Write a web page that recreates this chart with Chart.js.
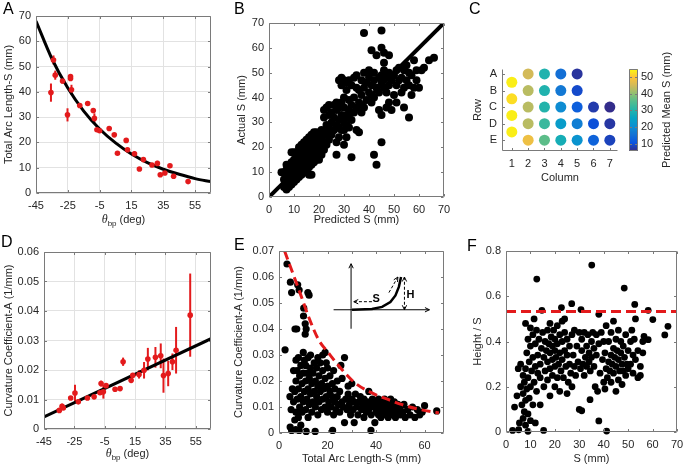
<!DOCTYPE html>
<html>
<head>
<meta charset="utf-8">
<script src="https://cdn.jsdelivr.net/npm/chart.js@4.4.1/dist/chart.umd.min.js"></script>
<style>
  body { margin: 0; background: #fff; }
  #fig { position: relative; width: 685px; height: 466px; overflow: hidden; font-family: "Liberation Sans", Arial, sans-serif; }
  #fig canvas { position: absolute; }
  .tag { position: absolute; font-size: 16px; line-height: 16px; color: #000; }
</style>
</head>
<body>
<div id="fig">
  <canvas id="chartA" width="225" height="230" style="left:0px;top:0px"></canvas>
  <canvas id="chartB" width="230" height="230" style="left:225px;top:0px"></canvas>
  <canvas id="chartC" width="170" height="230" style="left:455px;top:0px"></canvas>
  <canvas id="chartCbar" width="65" height="230" style="left:620px;top:0px"></canvas>
  <canvas id="chartD" width="225" height="236" style="left:0px;top:230px"></canvas>
  <canvas id="chartE" width="230" height="236" style="left:225px;top:230px"></canvas>
  <canvas id="chartF" width="230" height="236" style="left:455px;top:230px"></canvas>
  <div class="tag" style="left:3px;top:1px">A</div>
  <div class="tag" style="left:234px;top:1px">B</div>
  <div class="tag" style="left:469px;top:1px">C</div>
  <div class="tag" style="left:1px;top:234px">D</div>
  <div class="tag" style="left:234px;top:237px">E</div>
  <div class="tag" style="left:467px;top:238px">F</div>
</div>
<script>
// ---- A: total arc length vs theta_bp ----
const thetaA = [-35.6, -34, -32.9, -28.3, -25.2, -23.3, -23.3, -22.7, -17.5, -12.5, -9, -8.3, -6.7, -5, 1, 4.2, 6.2, 11.7, 12.5, 16.9, 20, 22.5, 27.9, 31.3, 33.1, 36, 39.2, 41.5, 50.6]
const arcA = [39.7, 52.6, 46.6, 44.3, 30.9, 46.1, 45.3, 40.8, 34.6, 35.4, 32.6, 29.5, 25, 24.6, 25.5, 23, 15.7, 20.8, 17.1, 15.5, 9.5, 13.2, 11.1, 11.7, 7.2, 7.9, 10.8, 6.6, 4.5]
const arcErrA = [3.6, 1.8, 1.8, 1, 2.6, 0.6, 0.6, 2, 0.5, 0.5, 0.5, 2, 0.8, 0.6, 0.5, 0.5, 0.5, 0.5, 0.8, 1, 0.5, 0.5, 0.5, 1, 0.5, 0.5, 0.5, 0.5, 0.6]
const fitThetaA = [-45, -35, -25, -15, -5, 5, 15, 25, 35, 45, 55, 65]
const fitArcA = [68, 53.1, 41.5, 32.4, 25.3, 19.8, 15.4, 12, 9.4, 7.4, 5.7, 4.5]
const thetaTicks = [-45, -25, -5, 15, 35, 55]
const arcTicks = [0, 10, 20, 30, 40, 50, 60, 70]

// ---- B: actual vs predicted S (mm), [predicted, actual] ----
const predActualB = [
  [5,10],[6,4],[6,7],[6,10],[7,3],[7,5],[7,8],[7,11],[7,13],[8,4],[8,6],[8,9],[8,11],[8,13],
  [9,5],[9,7],[9,9],[9,12],[9,14],[9,18],[10,6],[10,8],[10,10],[10,12],[10,15],[10,18],
  [11,7],[11,9],[11,11],[11,13],[11,16],[11,18],[12,8],[12,10],[12,12],[12,14],[12,17],[12,20],
  [13,9],[13,11],[13,13],[13,15],[13,18],[13,21],[14,10],[14,12],[14,14],[14,16],[14,19],[14,22],
  [15,11],[15,13],[15,15],[15,17],[15,20],[15,23],[16,9],[16,12],[16,14],[16,16],[16,18],[16,21],[16,24],
  [17,9],[17,13],[17,15],[17,17],[17,19],[17,22],[17,25],[18,14],[18,16],[18,18],[18,20],[18,23],[18,26],
  [19,15],[19,17],[19,19],[19,21],[19,24],[19,26],[20,15],[20,18],[20,20],[20,22],[20,25],
  [21,17],[21,19],[21,21],[21,24],[21,27],[22,19],[22,22],[22,25],[22,32],[22,35],
  [23,21],[23,26],[23,29],[23,36],[24,23],[24,28],[24,33],[24,37],
  [25,25],[25,30],[25,34],[26,27],[26,32],[26,37],
  [27,17],[27,22],[27,29],[27,35],[27,38],[28,24],[28,31],[28,36],[28,47],
  [29,27],[29,33],[29,38],[29,45],[29,48],[30,21],[30,27],[30,31],[30,36],[30,40],[30,47],
  [31,24],[31,29],[31,33],[31,43],[31,46],[32,28],[32,35],[32,39],[32,47],
  [33,16],[33,31],[33,37],[33,45],[34,34],[34,40],[34,48],
  [35,27],[35,36],[35,44],[35,49],[36,26],[36,38],[36,43],
  [37,34],[37,41],[37,47],[38,36],[38,44],[38,50],[38,66],
  [39,39],[39,46],[40,42],[40,48],[40,51],
  [41,38],[41,45],[41,59],[42,17],[42,40],[42,47],[42,50],
  [43,13],[43,44],[43,57],[44,35],[44,42],[44,48],
  [45,22],[45,33],[45,46],[45,49],[45,60],[45,67],[46,44],[46,51],[46,54],[46,58],
  [47,36],[47,42],[47,48],[48,38],[48,45],[48,50],[48,57],
  [49,35],[49,47],[50,41],[50,49],[51,38],[51,45],[51,51],
  [52,47],[52,52],[53,42],[53,48],[54,36],[54,44],[54,51],
  [55,47],[55,53],[56,32],[56,45],[56,50],[57,41],[57,49],
  [58,44],[58,55],[59,47],[59,51],[60,44],[61,51],[62,52],[64,55],[66,56]
]
const identityB = [0, 70]
const sTicks = [0, 10, 20, 30, 40, 50, 60, 70]

// ---- C: predicted mean S per well ----
const rowLabels = ['A', 'B', 'C', 'D', 'E']
const colTicks = [1, 2, 3, 4, 5, 6, 7]
const wellCol = [1, 1, 1, 1, 2, 2, 2, 2, 2, 3, 3, 3, 3, 3, 4, 4, 4, 4, 4, 5, 5, 5, 5, 5, 6, 6, 6, 7, 7, 7]
const wellRow = [1.5, 2.5, 3.5, 4.5, 1, 2, 3, 4, 5, 1, 2, 3, 4, 5, 1, 2, 3, 4, 5, 1, 2, 3, 4, 5, 3, 4, 5, 3, 4, 5]
const wellMeanS = [53.5, 52, 53.5, 53.5, 45, 43, 43, 43, 48, 29.5, 29.5, 30, 32.5, 36, 15, 16.5, 20, 23.5, 28, 7, 9.5, 12.5, 17.5, 21.5, 7.8, 10.2, 13.2, 6, 7.3, 8.7]
const cbarTicks = [10, 20, 30, 40, 50]
const cMin = 5.8
const cMax = 54.6

// ---- D: curvature coefficient vs theta_bp ----
const thetaD = [-34.9, -33.1, -32.3, -27.4, -24.6, -22.4, -16.4, -12, -8.1, -7.4, -5.9, -4.1, 1.8, 5.1, 7.1, 12.4, 13.5, 17.6, 20.9, 23.4, 28.4, 31.9, 33.7, 36.8, 39.6, 42, 51.3]
const curvD = [0.0063, 0.0077, 0.0071, 0.0105, 0.0122, 0.0092, 0.0105, 0.0109, 0.0123, 0.0154, 0.0126, 0.0147, 0.0135, 0.0137, 0.0228, 0.0165, 0.0182, 0.0185, 0.0199, 0.0237, 0.0243, 0.0248, 0.0181, 0.0188, 0.0228, 0.0267, 0.0386]
const curvErrD = [0.0005, 0.0009, 0.0005, 0.0004, 0.0028, 0.0006, 0.0005, 0.0004, 0.0005, 0.001, 0.0023, 0.0005, 0.0004, 0.0008, 0.0014, 0.0007, 0.0008, 0.0014, 0.0028, 0.0038, 0.0035, 0.0042, 0.0058, 0.0043, 0.0028, 0.0079, 0.0141]
const fitThetaD = [-45, 65]
const fitCurvD = [0.0041, 0.0306]
const curvTicksD = [0, 0.01, 0.02, 0.03, 0.04, 0.05, 0.06]

// ---- E: curvature coefficient vs total arc length, [S, A] ----
const arcCurvE = [
  [3.3,0.065],[4.7,0.058],[5.2,0.054],[7.7,0.057],[8.3,0.055],[11.9,0.054],[12.4,0.053],[10.2,0.048],
  [10.1,0.045],[10.8,0.042],[11.2,0.04],[10.8,0.038],[6.6,0.04],[7.3,0.04],[2.5,0.032],
  [4.5,0.014],[4.6,0.0023],[5.2,0.001],[5,0.009],[5.5,0.017],[6,0.024],[6,0.012],[6.5,0.005],[6.5,0.016],
  [6.9,0.0013],[7,0.008],[7,0.02],[7,0.028],[7.5,0.013],[7.5,0.024],[8.3,0.001],[8,0.006],[8,0.017],[8,0.029],
  [8.5,0.01],[8.5,0.022],[9,0.003],[9,0.014],[9,0.026],[9.5,0.008],[9.5,0.019],[10,0.012],[10,0.023],[10,0.031],
  [10.5,0.016],[10.5,0.028],[11,0.009],[11,0.02],[11,0.026],[11.2,0.0006],[11.5,0.013],[11.5,0.023],[12,0.006],[12,0.017],
  [12,0.029],[12.5,0.011],[12.5,0.021],[13,0.015],[13,0.025],[13,0.03],[13.5,0.008],[13.5,0.019],[14,0.012],
  [14,0.023],[14.5,0.016],[14.5,0.027],[14.9,0.0006],[15,0.01],[15,0.02],
  [15.5,0.014],[15.5,0.025],[16,0.007],[16,0.018],[16,0.029],[16.5,0.012],[16.5,0.022],[17,0.016],[17,0.027],
  [17.5,0.009],[17.5,0.019],[18,0.013],[18,0.024],[18,0.03],[18.5,0.017],[19,0.01],[19,0.021],[19,0.031],
  [19.5,0.014],[19.5,0.027],[20,0.008],[20,0.018],[20,0.025],[20.5,0.012],[21,0.016],[21,0.022],[22.1,0.001],
  [21.5,0.01],[22,0.014],[22,0.019],[22.5,0.007],[22.5,0.024],[23,0.012],[23,0.017],[23.5,0.009],[24,0.014],
  [24,0.02],[24.5,0.011],[25,0.008],[25,0.016],[25.5,0.026],[26,0.012],[26,0.021],[26.5,0.01],[27,0.029],
  [27,0.004],[27.5,0.013],[28,0.009],[28.5,0.015],[28.5,0.018],[29,0.011],[29.5,0.007],[30,0.013],[30,0.019],
  [30.5,0.009],[31,0.012],[31,0.004],[31.5,0.015],[32,0.01],[32.5,0.007],[33,0.012],[33.5,0.014],[34,0.009],
  [34.5,0.011],[35,0.006],[35,0.013],[35.5,0.01],[36,0.008],[36.5,0.012],[37,0.016],[37,0.009],[37.5,0.011],
  [37.9,0.001],[38,0.007],[38.5,0.013],[39,0.01],[39.5,0.004],[40,0.008],[40,0.012],
  [40.5,0.01],[41,0.007],[41,0.013],[41.5,0.009],[42,0.011],[42,0.006],[42.5,0.012],[43,0.008],[43,0.01],
  [43.5,0.013],[44,0.007],[44,0.011],[44.5,0.009],[45,0.012],[45,0.006],[45.5,0.01],[46,0.008],[46,0.013],
  [46.5,0.011],[47,0.007],[47,0.009],[47.5,0.012],[48,0.01],[48,0.006],[48.5,0.008],[49,0.011],[49.5,0.009],
  [50,0.007],[50,0.01],[51,0.008],[51.5,0.011],[52,0.006],[53,0.009],[54,0.007],[55,0.01],[56,0.006],
  [57,0.009],[58,0.007],[59,0.008],[60,0.0105],[65,0.0085]
]
const boundS = [2.3, 8.7, 12.1, 16.3, 20.4, 25.9, 31.4, 38.3, 45.2, 50.8, 56.3, 65.9]
const boundA = [0.07, 0.0538, 0.0449, 0.0359, 0.0308, 0.0244, 0.0192, 0.0154, 0.0128, 0.0109, 0.0094, 0.0077]
const arcTicksE = [0, 10, 20, 30, 40, 50, 60]
const curvTicksE = [0, 0.01, 0.02, 0.03, 0.04, 0.05, 0.06, 0.07]

// ---- F: height / S vs S, [S, H/S] ----
const heightRatioF = [
  [12.6,0.676],[35.1,0.738],[48.4,0.636],[52.7,0.564],[26.9,0.567],[30.7,0.541],[22.7,0.55],[14.7,0.538],
  [58.2,0.538],[60.1,0.497],[65,0.429],[66.3,0.467],[56.5,0.423],[58.2,0.408],[2.7,0.007],[5.2,0.01],
  [9,0.003],[15.4,0.007],[38,0.049],[41.2,0.004],[31,0.094],[34.4,0.143],
  [3.5,0.11],[4.5,0.16],[5,0.28],[5.5,0.04],[6,0.2],[6,0.3],[6.5,0.12],[7,0.06],[7,0.17],[7,0.25],
  [7.5,0.09],[7.5,0.22],[8,0.03],[8,0.14],[8,0.28],[8,0.48],[8.5,0.19],[8.5,0.35],[9,0.08],[9,0.24],
  [9,0.41],[9.5,0.15],[9.5,0.31],[10,0.05],[10,0.2],[10,0.38],[10,0.46],[10.5,0.27],[11,0.12],[11,0.33],
  [11,0.43],[11.5,0.22],[11.5,0.5],[12,0.04],[12,0.29],[12,0.39],[12.5,0.18],[12.5,0.45],[13,0.26],[13,0.34],
  [13.5,0.41],[14,0.12],[14,0.24],[14,0.3],[14.5,0.37],[15,0.44],
  [15.5,0.2],[15.5,0.33],[16,0.27],[16,0.4],[16.5,0.36],[17,0.23],[17,0.31],[17,0.45],[17.5,0.39],[18,0.16],
  [18,0.28],[18,0.35],[18,0.48],[18.5,0.42],[19,0.25],[19,0.32],[19,0.38],[19.5,0.45],[20,0.2],[20,0.29],
  [20,0.36],[20,0.41],[20.5,0.33],[21,0.24],[21,0.39],[21,0.47],[21.5,0.3],[22,0.18],[22,0.35],[22,0.43],
  [22.5,0.27],[23,0.32],[23,0.4],[23,0.49],[23.5,0.24],[24,0.36],[24,0.44],[24,0.5],[24.5,0.29],[25,0.17],
  [25,0.34],[25,0.41],[25.5,0.22],[26,0.3],[26,0.38],[26.5,0.26],[27,0.2],[27,0.43],[27.5,0.34],[28,0.29],
  [28,0.45],[28.5,0.25],[29,0.38],[29.5,0.31],[30,0.1],[30,0.44],
  [30.5,0.28],[31,0.36],[31,0.41],[31.5,0.3],[32,0.44],[32,0.25],[32.5,0.33],[33,0.38],[33,0.29],[33.5,0.43],
  [34,0.31],[34,0.35],[34.5,0.27],[35,0.4],[35,0.33],[35.5,0.44],[36,0.29],[36,0.37],[36.5,0.2],[37,0.43],
  [37,0.34],[37.5,0.18],[38,0.39],[38,0.52],[38.5,0.26],[39,0.44],[39.5,0.32],[40,0.22],[40,0.4],
  [40.5,0.19],[40.5,0.35],[41,0.28],[41,0.47],[41.5,0.24],[42,0.31],[42,0.4],[42.5,0.27],[43,0.22],[43,0.34],
  [43,0.44],[43.5,0.3],[44,0.26],[44,0.37],[44,0.49],[44.5,0.33],[45,0.18],[45,0.29],[45,0.41],[45.5,0.36],
  [46,0.23],[46,0.32],[46,0.45],[46.5,0.27],[47,0.35],[47,0.4],[47.5,0.21],[47.5,0.3],[48,0.38],[48,0.27],
  [48.5,0.33],[49,0.25],[49,0.43],[49.5,0.3],[50,0.36],[50,0.28],
  [51,0.4],[51,0.3],[51.5,0.45],[52,0.34],[52,0.26],[52.5,0.41],[53,0.5],[53,0.32],[54,0.24],[54,0.36],
  [55,0.25],[55,0.29],[56,0.35],[56,0.4]
]
const ratioLevelF = 0.533
const ratioTicksF = [0, 0.2, 0.4, 0.6, 0.8]

const RED = '#e31a1c'
const AXIS = '#7a7a7a'

Chart.defaults.font.family = "'Liberation Sans', Arial, sans-serif"
Chart.defaults.font.size = 11
Chart.defaults.color = '#262626'
Chart.defaults.animation = false
Chart.defaults.responsive = false
Chart.defaults.plugins.legend.display = false
Chart.defaults.plugins.tooltip.enabled = false

const pts = (xs, ys) => xs.map((v, i) => ({ x: v, y: ys[i] }))
const pairs = list => list.map(([x, y]) => ({ x, y }))

const parulaStops = [[53, 42, 135], [9, 84, 225], [20, 114, 212], [13, 143, 210], [6, 164, 196], [36, 180, 170], [80, 189, 143], [145, 191, 113], [210, 186, 89], [254, 195, 56], [249, 251, 14]]
function parula(t) {
  t = Math.max(0, Math.min(1, t))
  const p = t * (parulaStops.length - 1)
  const i = Math.min(parulaStops.length - 2, Math.floor(p))
  const f = p - i
  const a = parulaStops[i], b = parulaStops[i + 1]
  return `rgb(${a.map((c, k) => Math.round(c + (b[k] - c) * f)).join(',')})`
}

function axis(o) {
  return {
    type: 'linear',
    position: o.pos,
    min: o.min,
    max: o.max,
    reverse: !!o.reverse,
    afterBuildTicks: s => { s.ticks = o.ticks.map(v => ({ value: v })) },
    afterFit: s => {
      if (o.pos === 'bottom') s.height = o.size
      else s.width = o.size
      s.paddingLeft = s.paddingRight = s.paddingTop = s.paddingBottom = 0
    },
    ticks: { padding: o.pad ?? 5, maxRotation: 0, minRotation: 0, autoSkip: false, callback: o.fmt || (v => String(v)) },
    grid: { display: !!o.grid, color: '#e2e2e2', drawTicks: false },
    border: { display: false },
    title: o.title
      ? { display: true, text: o.title, padding: { top: o.tpad, bottom: o.tpad } }
      : { display: false }
  }
}

const frame = {
  id: 'frame',
  afterDatasetsDraw(chart, args, o) {
    const { ctx, chartArea: a } = chart
    const x = chart.scales.x, y = chart.scales.y
    const t = 2.5
    const L = Math.round(a.left) + 0.5, R = Math.round(a.right) - 0.5
    const T = Math.round(a.top) + 0.5, B = Math.round(a.bottom) - 0.5
    ctx.save()
    ctx.strokeStyle = AXIS
    ctx.lineWidth = 1
    ctx.beginPath()
    if (o.box) ctx.rect(L, T, R - L, B - T)
    else { ctx.moveTo(L, T); ctx.lineTo(L, B); ctx.lineTo(R, B) }
    if (x && x.options.display !== false) {
      x.ticks.forEach(tk => {
        const px = Math.round(x.getPixelForValue(tk.value)) + 0.5
        ctx.moveTo(px, B); ctx.lineTo(px, B - t)
        if (o.box) { ctx.moveTo(px, T); ctx.lineTo(px, T + t) }
      })
    }
    if (y) {
      y.ticks.forEach(tk => {
        const py = Math.round(y.getPixelForValue(tk.value)) + 0.5
        ctx.moveTo(L, py); ctx.lineTo(L + t, py)
        if (o.box) { ctx.moveTo(R, py); ctx.lineTo(R - t, py) }
      })
    }
    ctx.stroke()
    ctx.restore()
  }
}

// vertical error bars, read from dataset.errs
const errBars = {
  id: 'errBars',
  beforeDatasetsDraw(chart) {
    const { ctx, scales: { x, y } } = chart
    ctx.save()
    ctx.strokeStyle = RED
    ctx.lineWidth = 2
    chart.data.datasets.forEach(ds => {
      if (!ds.errs) return
      ds.data.forEach((p, i) => {
        const px = x.getPixelForValue(p.x)
        ctx.beginPath()
        ctx.moveTo(px, y.getPixelForValue(p.y - ds.errs[i]))
        ctx.lineTo(px, y.getPixelForValue(p.y + ds.errs[i]))
        ctx.stroke()
      })
    })
    ctx.restore()
  }
}

const thetaTitle = {
  id: 'thetaTitle',
  afterDraw(chart, args, o) {
    const { ctx, chartArea: a } = chart
    const parts = [
      ['\u03b8', 'italic 12px "Liberation Serif", serif', 0],
      ['bp', '8px "Liberation Sans", Arial, sans-serif', 3],
      [' (deg)', '11px "Liberation Sans", Arial, sans-serif', 0]
    ]
    ctx.save()
    ctx.fillStyle = '#262626'
    ctx.textBaseline = 'alphabetic'
    let w = 0
    parts.forEach(p => { ctx.font = p[1]; p.push(ctx.measureText(p[0]).width); w += p[3] })
    let px = (a.left + a.right) / 2 - w / 2
    parts.forEach(p => { ctx.font = p[1]; ctx.fillText(p[0], px, o.y + p[2]); px += p[3] })
    ctx.restore()
  }
}

function arrowHead(ctx, x0, y0, x1, y1, size) {
  const ang = Math.atan2(y1 - y0, x1 - x0)
  ctx.beginPath()
  ctx.moveTo(x1 - size * Math.cos(ang - 0.45), y1 - size * Math.sin(ang - 0.45))
  ctx.lineTo(x1, y1)
  ctx.lineTo(x1 - size * Math.cos(ang + 0.45), y1 - size * Math.sin(ang + 0.45))
  ctx.stroke()
}
function arrow(ctx, p0, p1, dash, both) {
  ctx.setLineDash(dash || [])
  ctx.beginPath()
  ctx.moveTo(p0[0], p0[1])
  ctx.lineTo(p1[0], p1[1])
  ctx.stroke()
  ctx.setLineDash([])
  arrowHead(ctx, p0[0], p0[1], p1[0], p1[1], 5)
  if (both) arrowHead(ctx, p1[0], p1[1], p0[0], p0[1], 5)
}

// schematic of S and H in panel E, placed in data units
const inset = {
  id: 'inset',
  afterDatasetsDraw(chart) {
    const { ctx, scales: { x, y } } = chart
    const P = (a, b) => [x.getPixelForValue(a), y.getPixelForValue(b)]
    const curve = [[30.1, 0.0474], [38.3, 0.0477], [42.5, 0.0485], [45.9, 0.0504], [48, 0.0529], [49.4, 0.0562], [50.3, 0.06]]
    ctx.save()
    ctx.strokeStyle = '#000'
    ctx.fillStyle = '#000'
    ctx.lineWidth = 1
    arrow(ctx, P(29.7, 0.0401), P(29.7, 0.0651))
    arrow(ctx, P(22.5, 0.0474), P(62, 0.0474))
    ctx.lineWidth = 2.5
    ctx.beginPath()
    curve.forEach(([a, b], i) => { const p = P(a, b); i ? ctx.lineTo(p[0], p[1]) : ctx.moveTo(p[0], p[1]) })
    ctx.stroke()
    ctx.lineWidth = 1
    arrow(ctx, P(45.3, 0.054), P(49, 0.06), [3, 2])
    arrow(ctx, P(38.3, 0.0505), P(30.8, 0.0505), [3, 2])
    arrow(ctx, P(51.7, 0.0474), P(51.7, 0.06), [3, 2], true)
    ctx.font = 'bold 11px "Liberation Sans", Arial, sans-serif'
    ctx.textAlign = 'center'
    ctx.textBaseline = 'middle'
    let p = P(40, 0.0517)
    ctx.fillText('S', p[0], p[1])
    p = P(54.2, 0.053)
    ctx.fillText('H', p[0], p[1])
    ctx.restore()
  }
}

const cbarFill = {
  id: 'cbarFill',
  beforeDatasetsDraw(chart) {
    const { ctx, chartArea: a, scales: { y } } = chart
    for (let py = Math.floor(a.top); py < Math.ceil(a.bottom); py++) {
      const v = y.getValueForPixel(py + 0.5)
      ctx.fillStyle = parula((v - cMin) / (cMax - cMin))
      ctx.fillRect(a.left, py, a.width, 1)
    }
    ctx.save()
    ctx.fillStyle = '#262626'
    ctx.font = '11px "Liberation Sans", Arial, sans-serif'
    ctx.textAlign = 'center'
    ctx.textBaseline = 'middle'
    ctx.translate(47, (a.top + a.bottom) / 2)
    ctx.rotate(-Math.PI / 2)
    ctx.fillText('Predicted Mean S (mm)', 0, 0)
    ctx.restore()
  }
}

const fmt = d => v => (v === 0 ? '0' : v.toFixed(d))

// A
new Chart(document.getElementById('chartA'), {
  type: 'scatter',
  data: {
    datasets: [
      { data: pts(thetaA, arcA), errs: arcErrA, pointRadius: 2.8, backgroundColor: RED, borderWidth: 0, clip: false },
      { data: pts(fitThetaA, fitArcA), showLine: true, pointRadius: 0, borderColor: '#000', borderWidth: 3, cubicInterpolationMode: 'monotone' }
    ]
  },
  options: {
    layout: { padding: { top: 16, right: 14, left: 0, bottom: 0 } },
    scales: {
      x: axis({ pos: 'bottom', min: -45, max: 65, ticks: thetaTicks, size: 37, grid: true, pad: 6 }),
      y: axis({ pos: 'left', min: 0, max: 70, ticks: arcTicks, size: 36, grid: true, title: 'Total Arc Length-S (mm)', tpad: 2 })
    },
    plugins: { frame: { box: true }, thetaTitle: { y: 223 } }
  },
  plugins: [errBars, frame, thetaTitle]
})

// B
new Chart(document.getElementById('chartB'), {
  type: 'scatter',
  data: {
    datasets: [
      { data: pts(identityB, identityB), showLine: true, pointRadius: 0, borderColor: '#000', borderWidth: 4 },
      { data: pairs(predActualB), pointRadius: 4, backgroundColor: '#000', borderWidth: 0, clip: false }
    ]
  },
  options: {
    layout: { padding: { top: 23, right: 11, left: 0, bottom: 0 } },
    scales: {
      x: axis({ pos: 'bottom', min: 0, max: 70, ticks: sTicks, size: 33, pad: 6, title: 'Predicted S (mm)', tpad: 3 }),
      y: axis({ pos: 'left', min: 0, max: 70, ticks: sTicks, size: 44, title: 'Actual S (mm)', tpad: 10 })
    },
    plugins: { frame: { box: true } }
  },
  plugins: [frame]
})

// C
new Chart(document.getElementById('chartC'), {
  type: 'scatter',
  data: {
    datasets: [{
      data: pts(wellCol, wellRow),
      pointRadius: 5.5,
      pointBackgroundColor: wellMeanS.map(v => parula((v - cMin) / (cMax - cMin))),
      borderWidth: 0,
      clip: false
    }]
  },
  options: {
    layout: { padding: { top: 69, right: 7, left: 0, bottom: 0 } },
    scales: {
      x: axis({ pos: 'bottom', min: 0.4, max: 7.5, ticks: colTicks, size: 79, pad: 6, title: 'Column', tpad: 45 }),
      y: axis({ pos: 'left', min: 0.7, max: 5.65, reverse: true, ticks: [1, 2, 3, 4, 5], size: 47, fmt: v => rowLabels[v - 1], title: 'Row', tpad: 16 })
    },
    plugins: { frame: { box: false } }
  },
  plugins: [frame]
})

// C colorbar
new Chart(document.getElementById('chartCbar'), {
  type: 'scatter',
  data: { datasets: [{ data: [] }] },
  options: {
    layout: { padding: { top: 69, bottom: 79, left: 9, right: 0 } },
    scales: {
      x: { display: false, min: 0, max: 1 },
      y: axis({ pos: 'right', min: cMin, max: cMax, ticks: cbarTicks, size: 47, pad: 3 })
    },
    plugins: { frame: { box: true } }
  },
  plugins: [cbarFill, frame]
})

// D
new Chart(document.getElementById('chartD'), {
  type: 'scatter',
  data: {
    datasets: [
      { data: pts(thetaD, curvD), errs: curvErrD, pointRadius: 2.8, backgroundColor: RED, borderWidth: 0, clip: false },
      { data: pts(fitThetaD, fitCurvD), showLine: true, pointRadius: 0, borderColor: '#000', borderWidth: 3 }
    ]
  },
  options: {
    layout: { padding: { top: 22, right: 14, left: 0, bottom: 0 } },
    scales: {
      x: axis({ pos: 'bottom', min: -45, max: 65, ticks: thetaTicks, size: 37, grid: true, pad: 6 }),
      y: axis({ pos: 'left', min: 0, max: 0.06, ticks: curvTicksD, size: 44, grid: true, fmt: fmt(2), title: 'Curvature Coefficient-A (1/mm)', tpad: 2 })
    },
    plugins: { frame: { box: true }, thetaTitle: { y: 227 } }
  },
  plugins: [errBars, frame, thetaTitle]
})

// E
new Chart(document.getElementById('chartE'), {
  type: 'scatter',
  data: {
    datasets: [
      { data: pts(boundS, boundA), showLine: true, pointRadius: 0, borderColor: RED, borderWidth: 3, borderDash: [9, 5], cubicInterpolationMode: 'monotone' },
      { data: pairs(arcCurvE), pointRadius: 3.6, backgroundColor: '#000', borderWidth: 0, clip: false }
    ]
  },
  options: {
    layout: { padding: { top: 21, right: 11, left: 0, bottom: 0 } },
    scales: {
      x: axis({ pos: 'bottom', min: 0, max: 68, ticks: arcTicksE, size: 33, pad: 6, fmt: v => (v % 20 === 0 ? String(v) : ''), title: 'Total Arc Length-S (mm)', tpad: 0 }),
      y: axis({ pos: 'left', min: 0, max: 0.07, ticks: curvTicksE, size: 54, fmt: fmt(2), title: 'Curvature Coefficient-A (1/mm)', tpad: 7 })
    },
    plugins: { frame: { box: true } }
  },
  plugins: [frame, inset]
})

// F
new Chart(document.getElementById('chartF'), {
  type: 'scatter',
  data: {
    datasets: [
      { data: pts([0, 70], [ratioLevelF, ratioLevelF]), showLine: true, pointRadius: 0, borderColor: RED, borderWidth: 3, borderDash: [10, 5] },
      { data: pairs(heightRatioF), pointRadius: 3.4, backgroundColor: '#000', borderWidth: 0, clip: false }
    ]
  },
  options: {
    layout: { padding: { top: 21, right: 8, left: 0, bottom: 0 } },
    scales: {
      x: axis({ pos: 'bottom', min: 0, max: 70, ticks: sTicks, size: 34, pad: 6, title: 'S (mm)', tpad: 0 }),
      y: axis({ pos: 'left', min: 0, max: 0.8, ticks: ratioTicksF, size: 51, fmt: fmt(1), title: 'Height / S', tpad: 16 })
    },
    plugins: { frame: { box: true } }
  },
  plugins: [frame]
})
</script>
</body>
</html>
